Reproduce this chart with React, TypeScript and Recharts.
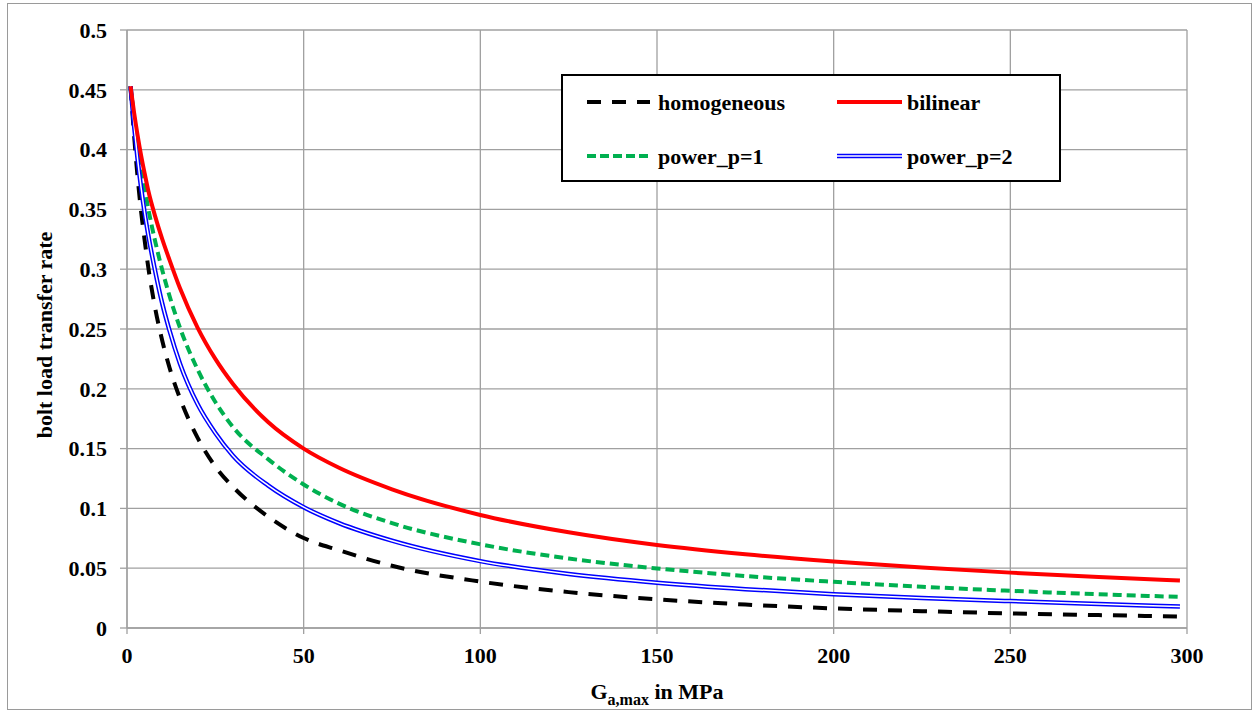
import React from "react";
import {
  LineChart,
  Line,
  XAxis,
  YAxis,
  CartesianGrid,
} from "recharts";

// G_a,max values (MPa)
const gValues = [
  1, 2, 3, 4, 5, 6, 8, 10, 12, 15, 20, 25, 30, 40, 50, 60, 75, 100, 125, 150,
  175, 200, 225, 250, 275, 298,
];

// bolt load transfer rate per model
const homogeneous = [
  0.453, 0.412, 0.377, 0.348, 0.324, 0.302, 0.267, 0.24, 0.218, 0.192, 0.159,
  0.135, 0.118, 0.093, 0.0752, 0.065, 0.052, 0.0388, 0.03, 0.024, 0.0196,
  0.0164, 0.0141, 0.0122, 0.0108, 0.0095,
];
const bilinear = [
  0.453, 0.431, 0.412, 0.395, 0.38, 0.366, 0.344, 0.325, 0.308, 0.284, 0.251,
  0.225, 0.204, 0.172, 0.15, 0.134, 0.116, 0.0945, 0.08, 0.0694, 0.0617,
  0.0556, 0.0505, 0.0463, 0.0427, 0.0397,
];
const powerP1 = [
  0.453, 0.427, 0.405, 0.385, 0.368, 0.351, 0.323, 0.299, 0.278, 0.251, 0.216,
  0.189, 0.168, 0.141, 0.12, 0.104, 0.0877, 0.07, 0.0581, 0.0498, 0.0435,
  0.0386, 0.0345, 0.0311, 0.0282, 0.026,
];
const powerP2 = [
  0.453, 0.42, 0.392, 0.368, 0.347, 0.329, 0.298, 0.271, 0.249, 0.221, 0.187,
  0.163, 0.144, 0.119, 0.101, 0.0877, 0.073, 0.0559, 0.0452, 0.0379, 0.0325,
  0.0283, 0.0251, 0.0225, 0.0201, 0.018,
];

const xTicks = [0, 50, 100, 150, 200, 250, 300];
const yTicks = [0, 0.05, 0.1, 0.15, 0.2, 0.25, 0.3, 0.35, 0.4, 0.45, 0.5];

const data = gValues.map((g, i) => ({
  g,
  homogeneous: homogeneous[i],
  bilinear: bilinear[i],
  powerP1: powerP1[i],
  powerP2: powerP2[i],
}));

const FONT = "'Liberation Serif', 'Times New Roman', serif";
const GRID = "#a0a0a0";

const YTitle = (props: any) => {
  const vb = props.viewBox || { x: 0, y: 30, width: 127, height: 598 };
  const x = vb.x + 44;
  const y = vb.y + vb.height / 2 + 6;
  return (
    <text
      x={x}
      y={y}
      transform={`rotate(-90 ${x} ${y})`}
      textAnchor="middle"
      dominantBaseline="central"
      fontFamily={FONT}
      fontWeight="bold"
      fontSize={22}
      fill="#000"
    >
      bolt load transfer rate
    </text>
  );
};

const XTitle = (props: any) => {
  const vb = props.viewBox || { x: 127, y: 628, width: 1060, height: 83 };
  const x = vb.x + vb.width / 2;
  const y = vb.y + 71;
  return (
    <text
      x={x}
      y={y}
      textAnchor="middle"
      fontFamily={FONT}
      fontWeight="bold"
      fontSize={22}
      fill="#000"
    >
      <tspan>G</tspan>
      <tspan fontSize={16} dy={6}>
        a,max
      </tspan>
      <tspan dy={-6}> in MPa</tspan>
    </text>
  );
};

function LegendBox() {
  const textStyle: React.CSSProperties = {
    fontFamily: FONT,
    fontWeight: "bold",
    fontSize: 22,
  };
  return (
    <svg
      width={500}
      height={108}
      style={{ position: "absolute", left: 561, top: 74 }}
    >
      <rect x={1} y={1} width={498} height={106} fill="#fff" stroke="#000" strokeWidth={2} />
      {/* homogeneous */}
      <line x1={26} x2={89} y1={28} y2={28} stroke="#000" strokeWidth={4} strokeDasharray="14 11" />
      <text x={97} y={28} dominantBaseline="central" style={textStyle}>homogeneous</text>
      {/* bilinear */}
      <line x1={276} x2={341} y1={28} y2={28} stroke="#ff0000" strokeWidth={4} />
      <text x={346} y={28} dominantBaseline="central" style={textStyle}>bilinear</text>
      {/* power_p=1 */}
      <line x1={26} x2={89} y1={82} y2={82} stroke="#00b050" strokeWidth={4} strokeDasharray="9 4" />
      <text x={97} y={82} dominantBaseline="central" style={textStyle}>power_p=1</text>
      {/* power_p=2 */}
      <line x1={276} x2={341} y1={82} y2={82} stroke="#0000ff" strokeWidth={4.5} />
      <line x1={276} x2={341} y1={82} y2={82} stroke="#fff" strokeWidth={1.5} />
      <text x={346} y={82} dominantBaseline="central" style={textStyle}>power_p=2</text>
    </svg>
  );
}

export default function App() {
  return (
    <div
      style={{
        position: "absolute",
        left: 0,
        top: 0,
        width: 1253,
        height: 711,
        background: "#fff",
      }}
    >
      <div
        style={{
          position: "absolute",
          left: 7,
          top: 3,
          width: 1243,
          height: 705,
          border: "1px solid #9a9a9a",
        }}
      />
      <div style={{ position: "absolute", left: 0, top: 0 }}>
        <LineChart
          width={1253}
          height={711}
          data={data}
          margin={{ top: 30, right: 66, left: 0, bottom: 0 }}
        >
          <CartesianGrid stroke={GRID} strokeWidth={1.3} />
          <XAxis
            dataKey="g"
            type="number"
            domain={[0, 300]}
            ticks={xTicks}
            height={83}
            stroke={GRID}
            strokeWidth={1.3}
            tickSize={6}
            tickMargin={13}
            tick={{ fill: "#000", fontFamily: FONT, fontWeight: "bold", fontSize: 22 }}
            tickLine={{ stroke: GRID }}
            label={<XTitle />}
          />
          <YAxis
            type="number"
            domain={[0, 0.5]}
            ticks={yTicks}
            width={127}
            stroke={GRID}
            strokeWidth={1.3}
            tickSize={7}
            tickMargin={13}
            tickFormatter={(v: number) => String(v)}
            tick={{ fill: "#000", fontFamily: FONT, fontWeight: "bold", fontSize: 22 }}
            tickLine={{ stroke: GRID }}
            label={<YTitle />}
          />
          <Line
            type="monotone"
            dataKey="homogeneous"
            stroke="#000"
            strokeWidth={4}
            strokeDasharray="14 11"
            dot={false}
            isAnimationActive={false}
          />
          <Line
            type="monotone"
            dataKey="powerP1"
            stroke="#00b050"
            strokeWidth={4}
            strokeDasharray="9 5"
            dot={false}
            isAnimationActive={false}
          />
          <Line
            type="monotone"
            dataKey="powerP2"
            stroke="#0000ff"
            strokeWidth={4.5}
            dot={false}
            isAnimationActive={false}
          />
          <Line
            type="monotone"
            dataKey="powerP2"
            stroke="#ffffff"
            strokeWidth={1.5}
            dot={false}
            isAnimationActive={false}
          />
          <Line
            type="monotone"
            dataKey="bilinear"
            stroke="#ff0000"
            strokeWidth={4}
            dot={false}
            isAnimationActive={false}
          />
        </LineChart>
      </div>
      <LegendBox />
    </div>
  );
}
